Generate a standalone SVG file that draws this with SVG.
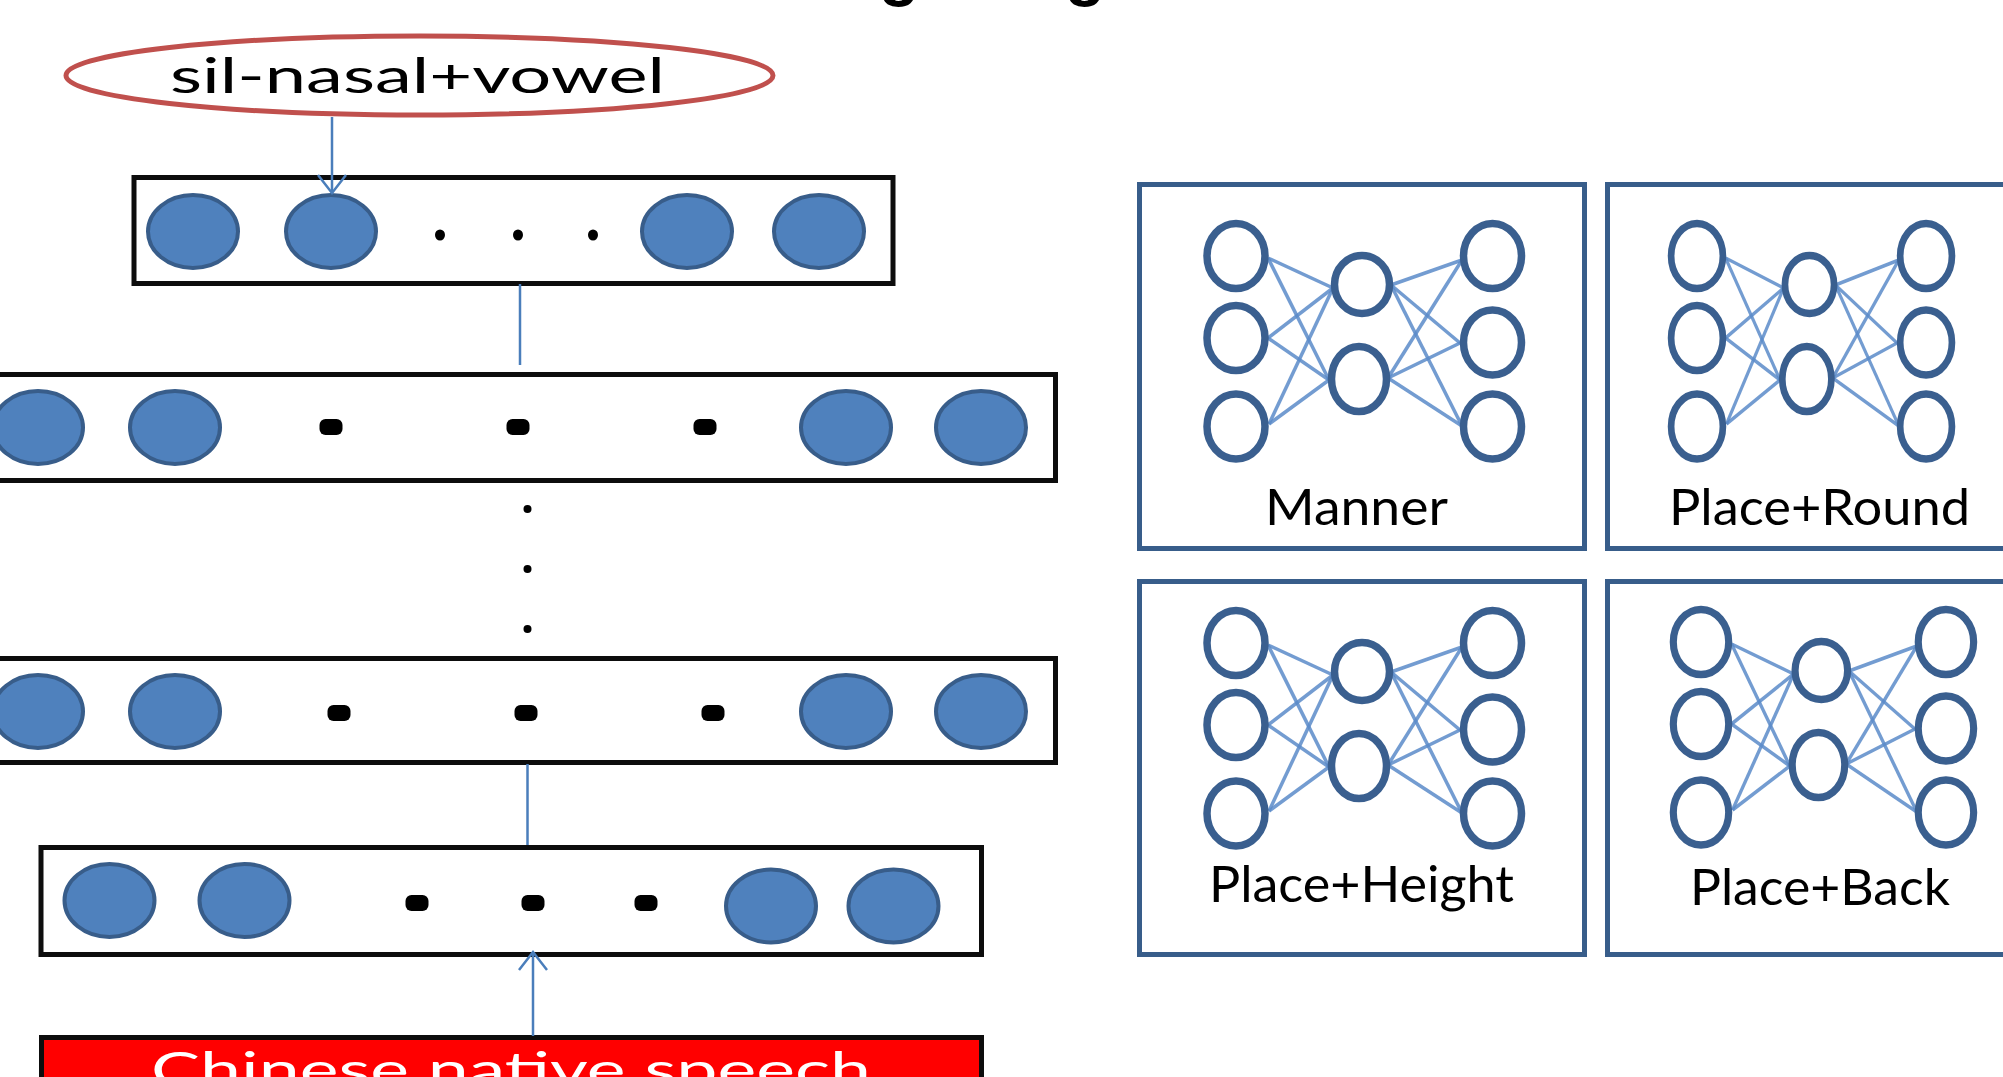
<svg xmlns="http://www.w3.org/2000/svg" xmlns:xlink="http://www.w3.org/1999/xlink" width="2003" height="1077" viewBox="0 0 2003 1077">
  <style>
    .layer { fill: #ffffff; stroke: #0d0d0d; stroke-width: 5; }
    .unit { fill: #4F81BD; stroke: #385D8A; stroke-width: 4; }
    .dot { fill: #000000; }
    .conn { fill: none; stroke: #4A7EBB; stroke-width: 2.5; }
    .attr { fill: #ffffff; stroke: #385D8A; stroke-width: 5; }
    .neuron { fill: #ffffff; stroke: #3A5F8F; stroke-width: 7.5; }
    .syn { stroke: #5B8BC9; stroke-width: 3.5; opacity: 0.85; }
    .lbl { font-family: Lato, "Open Sans", sans-serif; font-size: 50px; fill: #000000; }
    .big { font-family: Lato, "Open Sans", sans-serif; font-size: 48px; }
  </style>
  <defs>
    <marker id="open" markerUnits="userSpaceOnUse" viewBox="-22 -18 26 36" markerWidth="26" markerHeight="36" refX="0" refY="0" orient="auto" overflow="visible">
      <path d="M-18,-14 L0,0 L-18,14" fill="none" stroke="#4A7EBB" stroke-width="2.5"/>
    </marker>
    <!-- small 3-2-3 network icon, origin at the top-left neuron -->
    <g id="net">
      <line class="syn" x1="32" y1="2" x2="97" y2="32"/>
      <line class="syn" x1="32" y1="2" x2="93" y2="124"/>
      <line class="syn" x1="32" y1="82" x2="97" y2="32"/>
      <line class="syn" x1="32" y1="82" x2="93" y2="124"/>
      <line class="syn" x1="33" y1="168" x2="97" y2="32"/>
      <line class="syn" x1="33" y1="168" x2="93" y2="124"/>
      <line class="syn" x1="155" y1="29" x2="226" y2="4"/>
      <line class="syn" x1="155" y1="29" x2="224" y2="87"/>
      <line class="syn" x1="155" y1="29" x2="226" y2="170"/>
      <line class="syn" x1="152" y1="122" x2="226" y2="4"/>
      <line class="syn" x1="152" y1="122" x2="224" y2="87"/>
      <line class="syn" x1="152" y1="122" x2="226" y2="170"/>
      <ellipse class="neuron" cx="0" cy="0" rx="29" ry="32.5"/>
      <ellipse class="neuron" cx="0" cy="82" rx="29" ry="32.5"/>
      <ellipse class="neuron" cx="0" cy="170.5" rx="29" ry="32.5"/>
      <ellipse class="neuron" cx="126" cy="28.5" rx="27.5" ry="29"/>
      <ellipse class="neuron" cx="123" cy="123" rx="27.5" ry="32.5"/>
      <ellipse class="neuron" cx="256.5" cy="0" rx="29" ry="32.5"/>
      <ellipse class="neuron" cx="256.5" cy="86.5" rx="29" ry="32.5"/>
      <ellipse class="neuron" cx="256.5" cy="170.5" rx="29" ry="32.5"/>
    </g>
  </defs>

  <rect width="2003" height="1077" fill="#ffffff"/>

  <!-- title descenders running off the top edge -->
  <text font-family="'Liberation Sans', sans-serif" font-weight="bold" font-size="66" y="-7" fill="#000000"><tspan x="879">g</tspan><tspan x="1065">g</tspan></text>

  <!-- output label -->
  <g id="target-label">
    <ellipse cx="419.5" cy="75.5" rx="353.5" ry="39.5" fill="#ffffff" stroke="#C0504D" stroke-width="5"/>
    <text class="big" x="170" y="93" textLength="495" lengthAdjust="spacingAndGlyphs" fill="#000000">sil-nasal+vowel</text>
  </g>

  <!-- output layer -->
  <g id="layer-output">
    <rect class="layer" x="134" y="177.5" width="759" height="106"/>
    <ellipse class="unit" cx="193" cy="231.5" rx="45" ry="36.5"/>
    <ellipse class="unit" cx="331" cy="231.5" rx="45" ry="36.5"/>
    <ellipse class="unit" cx="687" cy="231.5" rx="45" ry="36.5"/>
    <ellipse class="unit" cx="819" cy="231.5" rx="45" ry="36.5"/>
    <ellipse class="dot" cx="440" cy="235" rx="5" ry="5.5"/>
    <ellipse class="dot" cx="518" cy="235" rx="5" ry="5.5"/>
    <ellipse class="dot" cx="593" cy="235" rx="5" ry="5.5"/>
  </g>

  <!-- hidden layer (top) -->
  <g id="layer-hidden-top">
    <rect class="layer" x="-10" y="374.5" width="1065.5" height="106"/>
    <ellipse class="unit" cx="38" cy="427.5" rx="45" ry="36.5"/>
    <ellipse class="unit" cx="175" cy="427.5" rx="45" ry="36.5"/>
    <ellipse class="unit" cx="846" cy="427.5" rx="45" ry="36.5"/>
    <ellipse class="unit" cx="981" cy="427.5" rx="45" ry="36.5"/>
    <rect class="dot" x="319.5" y="419" width="23" height="16" rx="6"/>
    <rect class="dot" x="506.5" y="419" width="23" height="16" rx="6"/>
    <rect class="dot" x="693.5" y="419" width="23" height="16" rx="6"/>
  </g>

  <!-- vertical ellipsis between hidden layers -->
  <g id="more-layers">
    <circle class="dot" cx="527.5" cy="509" r="4"/>
    <circle class="dot" cx="527.5" cy="569" r="4"/>
    <circle class="dot" cx="527.5" cy="629" r="4"/>
  </g>

  <!-- hidden layer (bottom) -->
  <g id="layer-hidden-bottom">
    <rect class="layer" x="-10" y="658.5" width="1065.5" height="104"/>
    <ellipse class="unit" cx="38" cy="711.5" rx="45" ry="36.5"/>
    <ellipse class="unit" cx="175" cy="711.5" rx="45" ry="36.5"/>
    <ellipse class="unit" cx="846" cy="711.5" rx="45" ry="36.5"/>
    <ellipse class="unit" cx="981" cy="711.5" rx="45" ry="36.5"/>
    <rect class="dot" x="327.5" y="705" width="23" height="16" rx="6"/>
    <rect class="dot" x="514.5" y="705" width="23" height="16" rx="6"/>
    <rect class="dot" x="701.5" y="705" width="23" height="16" rx="6"/>
  </g>

  <!-- input layer -->
  <g id="layer-input">
    <rect class="layer" x="41" y="847.5" width="940.5" height="107"/>
    <ellipse class="unit" cx="109.5" cy="900.5" rx="45" ry="36.5"/>
    <ellipse class="unit" cx="244.5" cy="900.5" rx="45" ry="36.5"/>
    <ellipse class="unit" cx="771" cy="906" rx="45" ry="36.5"/>
    <ellipse class="unit" cx="893.5" cy="906" rx="45" ry="36.5"/>
    <rect class="dot" x="405.5" y="895" width="23" height="16" rx="6"/>
    <rect class="dot" x="521.5" y="895" width="23" height="16" rx="6"/>
    <rect class="dot" x="634.5" y="895" width="23" height="16" rx="6"/>
  </g>

  <!-- speech input -->
  <g id="speech-input">
    <rect x="41.5" y="1037.5" width="940" height="70" fill="#FF0000" stroke="#0d0d0d" stroke-width="5"/>
    <text class="big" x="151" y="1087" textLength="720" lengthAdjust="spacingAndGlyphs" fill="#ffffff">Chinese native speech</text>
  </g>

  <!-- attribute detectors -->
  <g id="attr-manner">
    <rect class="attr" x="1139.5" y="184.5" width="445" height="364"/>
    <use xlink:href="#net" href="#net" transform="translate(1236,256)"/>
    <text class="lbl" x="1265" y="525" textLength="183" lengthAdjust="spacingAndGlyphs">Manner</text>
  </g>
  <g id="attr-place-round">
    <rect class="attr" x="1607.5" y="184.5" width="445" height="364"/>
    <use xlink:href="#net" href="#net" transform="translate(1697,256) scale(0.893,1)"/>
    <text class="lbl" x="1669" y="525" textLength="301" lengthAdjust="spacingAndGlyphs">Place+Round</text>
  </g>
  <g id="attr-place-height">
    <rect class="attr" x="1139.5" y="581.5" width="445" height="373"/>
    <use xlink:href="#net" href="#net" transform="translate(1236,643)"/>
    <text class="lbl" x="1209" y="902" textLength="305" lengthAdjust="spacingAndGlyphs">Place+Height</text>
  </g>
  <g id="attr-place-back">
    <rect class="attr" x="1607.5" y="581.5" width="445" height="373"/>
    <use xlink:href="#net" href="#net" transform="translate(1701,642) scale(0.955,1)"/>
    <text class="lbl" x="1690" y="905" textLength="260" lengthAdjust="spacingAndGlyphs">Place+Back</text>
  </g>

  <!-- connectors, drawn over the layers so the arrowheads stay visible -->
  <g id="connectors">
    <line class="conn" x1="332" y1="117" x2="332" y2="193" marker-end="url(#open)"/>
    <line class="conn" x1="520" y1="284" x2="520" y2="365"/>
    <line class="conn" x1="527.5" y1="764" x2="527.5" y2="845"/>
    <line class="conn" x1="533" y1="1036" x2="533" y2="952" marker-end="url(#open)"/>
  </g>
</svg>
